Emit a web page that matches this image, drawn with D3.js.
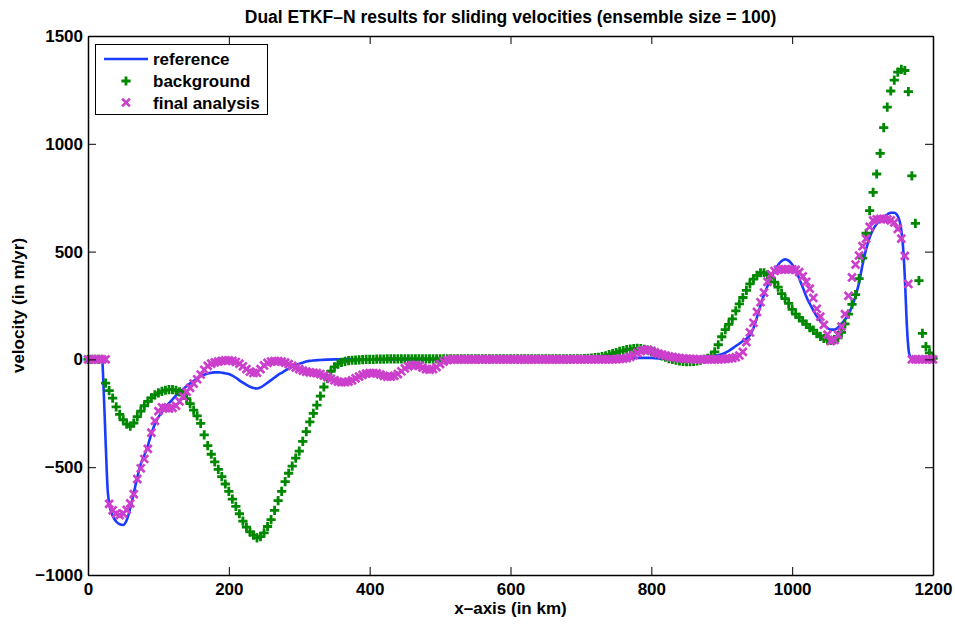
<!DOCTYPE html>
<html>
<head>
<meta charset="utf-8">
<script src="https://cdn.jsdelivr.net/npm/d3@7"></script>
<style>
  body { margin: 0; background: #fff; }
  text { font-family: "Liberation Sans", Arial, Helvetica, sans-serif; font-weight: bold; }
</style>
</head>
<body>
<div id="chart"></div>
<script>
// Size of the page / plot box
let width = 955;
let height = 624;
let margin = {left: 88, right: 22, top: 36, bottom: 49};

// x grid of the markers (km), every 5 km
let xKm = d3.range(0, 1201, 5);

// background (green +), one value per 5 km
let background = [
  0, 0, 0, 0, 0, -110, -145, -180, -220, -255,
  -280, -300, -310, -295, -265, -240, -215, -195, -178, -165,
  -155, -148, -143, -140, -140, -143, -150, -165, -182, -205,
  -235, -262, -297, -350, -400, -440, -475, -510, -544, -578,
  -612, -648, -682, -716, -750, -778, -800, -815, -828, -822,
  -805, -775, -743, -700, -655, -612, -567, -528, -495, -458,
  -425, -380, -335, -290, -250, -212, -170, -128, -88, -55,
  -35, -22, -14, -9, -6, -4, -3, -2, -1, 0,
  0, 0, 1, 1, 1, 2, 2, 2, 2, 2,
  2, 2, 2, 2, 2, 2, 2, 2, 2, 2,
  2, 2, 2, 2, 2, 2, 2, 2, 2, 2,
  2, 2, 2, 2, 2, 2, 2, 2, 2, 2,
  2, 2, 2, 2, 2, 2, 2, 2, 2, 2,
  2, 2, 2, 2, 2, 2, 2, 2, 3, 3,
  3, 4, 5, 6, 8, 10, 13, 17, 22, 27,
  32, 37, 41, 45, 48, 50, 51, 50, 47, 43,
  37, 30, 23, 16, 10, 4, 0, -4, -7, -9,
  -10, -10, -9, -7, -4, 0, 5, 15, 35, 68,
  105, 138, 162, 188, 225, 258, 287, 320, 350, 372,
  390, 402, 402, 392, 378, 358, 335, 305, 282, 260,
  232, 210, 195, 178, 162, 147, 136, 120, 107, 97,
  90, 88, 92, 100, 125, 165, 210, 255, 300, 375,
  470, 585, 690, 775, 860, 956, 1075, 1170, 1245, 1295,
  1332, 1345, 1340, 1242, 851, 631, 365, 121, 59, 30,
  5
];

// final analysis (magenta x), one value per 5 km
let analysis = [
  0, 0, 0, 0, 0, 0, -670, -700, -715, -722,
  -715, -698, -668, -625, -555, -505, -462, -415, -340, -285,
  -240, -222, -225, -228, -225, -215, -195, -172, -150, -132,
  -112, -92, -70, -48, -30, -20, -14, -10, -7, -5,
  -5, -7, -12, -20, -32, -45, -57, -63, -62, -45,
  -28, -16, -10, -8, -8, -10, -15, -22, -30, -38,
  -45, -52, -57, -60, -62, -64, -68, -75, -82, -90,
  -97, -103, -106, -106, -103, -97, -88, -80, -72, -66,
  -63, -63, -65, -70, -76, -80, -80, -76, -68, -55,
  -42, -32, -27, -26, -30, -38, -45, -48, -45, -36,
  -22, -10, -3, 0, 0, 0, 0, 0, 0, 0,
  0, 0, 0, 0, 0, 0, 0, 0, 0, 0,
  0, 0, 0, 0, 0, 0, 0, 0, 0, 0,
  0, 0, 0, 0, 0, 0, 0, 0, 0, 0,
  0, 0, 0, 0, 0, 0, 0, 0, 0, 0,
  1, 2, 3, 6, 12, 20, 30, 38, 44, 45,
  40, 33, 27, 22, 18, 14, 11, 8, 6, 4,
  3, 2, 1, 0, 0, 0, 0, 0, 0, 0,
  1, 2, 4, 6, 10, 18, 35, 80, 125, 170,
  220, 265, 310, 360, 395, 410, 416, 418, 418, 418,
  418, 415, 405, 385, 360, 328, 285, 235, 198, 160,
  115, 85, 90, 115, 152, 210, 295, 380, 440, 482,
  525, 560, 615, 645, 650, 652, 652, 650, 645, 635,
  605, 560, 480, 350, 0, 0, 0, 0, 0, 0,
  0
];

// reference (blue line)
let refX = [0, 20, 22, 25, 28, 30, 35, 40, 45, 50, 55, 60, 65, 70, 75, 80, 85, 90, 95,
  100, 105, 110, 115, 120, 125, 130, 135, 140, 145, 150, 155, 160, 165, 170, 175, 180,
  185, 190, 195, 200, 205, 210, 215, 220, 225, 230, 235, 240, 245, 250, 255, 260, 265,
  270, 275, 280, 285, 290, 295, 300, 305, 310, 315, 320, 330, 340, 350, 750, 765, 780,
  800, 815, 830, 860, 870, 880, 890, 900, 910, 920, 930, 940, 945, 950, 955, 960, 965,
  970, 975, 980, 985, 990, 995, 1000, 1005, 1010, 1015, 1020, 1025, 1030, 1035, 1040,
  1045, 1050, 1055, 1060, 1065, 1070, 1075, 1080, 1085, 1090, 1095, 1100, 1105, 1110,
  1115, 1120, 1125, 1130, 1135, 1140, 1145, 1150, 1155, 1158, 1160, 1163, 1166, 1170, 1200];
let refV = [0, 0, -120, -380, -610, -665, -725, -752, -765, -768, -745, -690, -620, -548, -485, -445, -400, -345, -300,
  -268, -245, -222, -203, -185, -168, -152, -138, -124, -111, -100, -89, -79, -71, -65, -62, -60,
  -60, -62, -64, -68, -75, -85, -97, -108, -118, -127, -133, -135, -130, -120, -108, -96, -84,
  -72, -62, -52, -43, -35, -27, -20, -15, -10, -7, -5, -3, -1, 0, 0, 3, 7,
  7, 3, 0, 0, 2, 8, 17, 24, 40, 62, 85, 112, 145, 195, 250, 300, 340,
  378, 410, 438, 456, 464, 458, 440, 415, 375, 335, 292, 258, 228, 200, 178,
  160, 146, 138, 138, 148, 165, 185, 210, 245, 295, 355, 440, 510, 565,
  603, 628, 646, 661, 672, 680, 680, 665, 600, 500, 380, 150, 30, 0, 0];

// axis ticks
let xTicks = [0, 200, 400, 600, 800, 1000, 1200];
let yTicks = [-1000, -500, 0, 500, 1000, 1500];

let seriesNames = ['reference', 'background', 'final analysis'];
let blue = '#1a3cff';
let green = '#008800';
let pink = '#cc3fcc';

let svg = d3.select('#chart')
  .append('svg')
  .attr('width', width)
  .attr('height', height);

let x = d3.scaleLinear()
  .domain([0, 1200])
  .range([margin.left, width - margin.right]);

let y = d3.scaleLinear()
  .domain([-1000, 1500])
  .range([height - margin.bottom, margin.top]);

// plotting order: line, then +, then x (x on top)
let line = d3.line()
  .x(function(d, i) { return x(refX[i]); })
  .y(function(d) { return y(d); })
  .curve(d3.curveMonotoneX);

svg.append('path')
  .attr('d', line(refV))
  .attr('fill', 'none')
  .attr('stroke', blue)
  .attr('stroke-width', 2.6);

let plusPath = 'M-4.6,0H4.6M0,-4.6V4.6';
let crossPath = 'M-3.9,-3.9L3.9,3.9M-3.9,3.9L3.9,-3.9';

svg.append('g')
  .selectAll('path')
  .data(background)
  .enter()
  .append('path')
  .attr('d', plusPath)
  .attr('transform', function(d, i) { return 'translate(' + x(xKm[i]) + ',' + y(d) + ')'; })
  .attr('stroke', green)
  .attr('stroke-width', 2.8)
  .attr('fill', 'none');

svg.append('g')
  .selectAll('path')
  .data(analysis)
  .enter()
  .append('path')
  .attr('d', crossPath)
  .attr('transform', function(d, i) { return 'translate(' + x(xKm[i]) + ',' + y(d) + ')'; })
  .attr('stroke', pink)
  .attr('stroke-width', 2.7)
  .attr('fill', 'none');

// axes, ticks pointing inward on all four sides
function styleAxis(g) {
  g.selectAll('.domain').attr('stroke', '#000').attr('stroke-width', 1.5);
  g.selectAll('.tick line').attr('stroke', '#000').attr('stroke-width', 1);
  g.selectAll('.tick text')
    .attr('fill', '#000')
    .style('font-size', '17px')
    .style('font-weight', 'bold')
    .style('font-family', '"Liberation Sans", Arial, sans-serif');
}

svg.append('g')
  .attr('transform', 'translate(0,' + (height - margin.bottom) + ')')
  .call(d3.axisBottom(x).tickValues(xTicks).tickSize(-8).tickSizeOuter(0).tickPadding(8).tickFormat(d3.format('d')))
  .call(styleAxis);

svg.append('g')
  .attr('transform', 'translate(0,' + margin.top + ')')
  .call(d3.axisTop(x).tickValues(xTicks).tickSize(-8).tickSizeOuter(0).tickFormat(''))
  .call(styleAxis);

svg.append('g')
  .attr('transform', 'translate(' + margin.left + ',0)')
  .call(d3.axisLeft(y).tickValues(yTicks).tickSize(-8).tickSizeOuter(0).tickPadding(5).tickFormat(d3.format('d')))
  .call(styleAxis);

svg.append('g')
  .attr('transform', 'translate(' + (width - margin.right) + ',0)')
  .call(d3.axisRight(y).tickValues(yTicks).tickSize(-8).tickSizeOuter(0).tickFormat(''))
  .call(styleAxis);

// title and axis labels
svg.append('text')
  .attr('x', (margin.left + width - margin.right) / 2)
  .attr('y', 23)
  .attr('text-anchor', 'middle')
  .style('font-size', '17.5px')
  .text('Dual ETKF\u2013N results for sliding velocities (ensemble size = 100)');

svg.append('text')
  .attr('x', (margin.left + width - margin.right) / 2)
  .attr('y', 614)
  .attr('text-anchor', 'middle')
  .style('font-size', '17px')
  .text('x\u2013axis (in km)');

svg.append('text')
  .attr('transform', 'translate(24,' + ((margin.top + height - margin.bottom) / 2) + ') rotate(-90)')
  .attr('text-anchor', 'middle')
  .style('font-size', '17px')
  .text('velocity (in m/yr)');

// legend
let legend = svg.append('g');
legend.append('rect')
  .attr('x', 95.5)
  .attr('y', 44.5)
  .attr('width', 172)
  .attr('height', 70)
  .attr('fill', '#fff')
  .attr('stroke', '#000')
  .attr('stroke-width', 1);

let rowY = [59, 81, 102.5];

legend.append('line')
  .attr('x1', 104).attr('x2', 148)
  .attr('y1', rowY[0]).attr('y2', rowY[0])
  .attr('stroke', blue).attr('stroke-width', 2.6);

legend.append('path')
  .attr('d', plusPath)
  .attr('transform', 'translate(126,' + rowY[1] + ')')
  .attr('stroke', green).attr('stroke-width', 2.8);

legend.append('path')
  .attr('d', crossPath)
  .attr('transform', 'translate(126,' + rowY[2] + ')')
  .attr('stroke', pink).attr('stroke-width', 2.7);

legend.selectAll('text.lab')
  .data(seriesNames)
  .enter()
  .append('text')
  .attr('class', 'lab')
  .attr('x', 153)
  .attr('y', function(d, i) { return rowY[i]; })
  .attr('dy', '0.36em')
  .style('font-size', '17px')
  .text(function(d) { return d; });
</script>
</body>
</html>
